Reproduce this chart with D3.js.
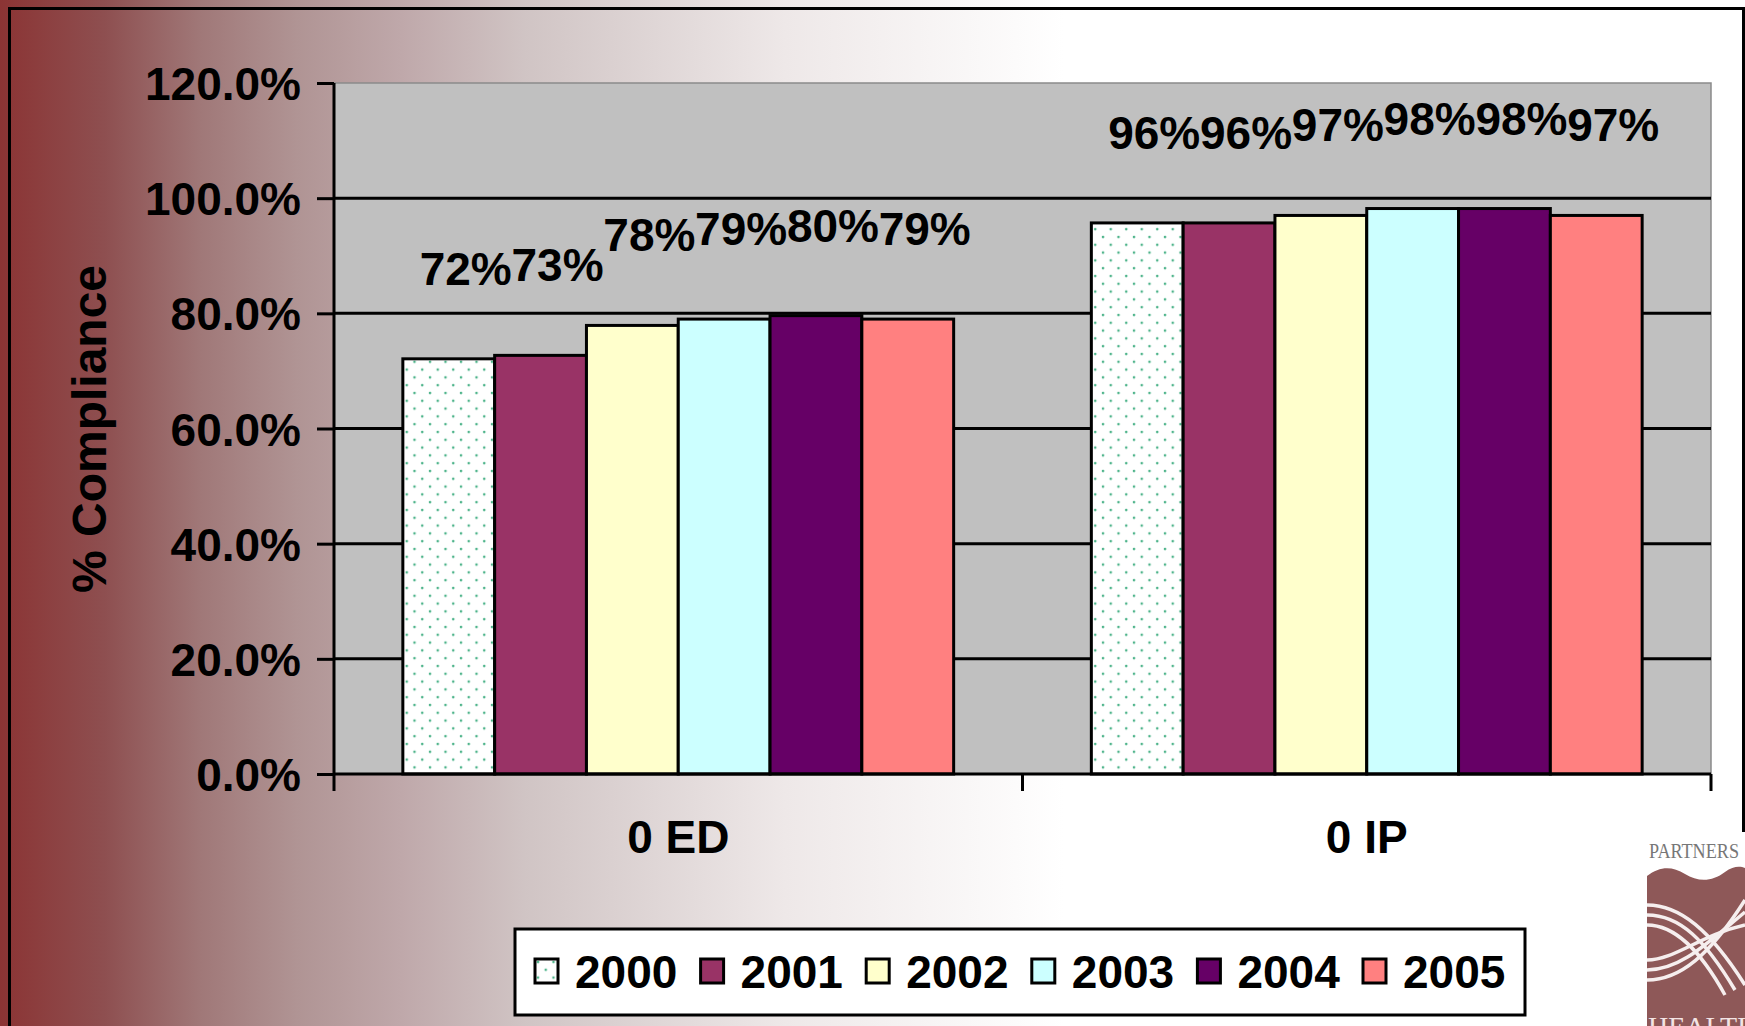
<!DOCTYPE html>
<html>
<head>
<meta charset="utf-8">
<script src="https://cdn.jsdelivr.net/npm/d3@7"></script>
<style>
  body { margin: 0; background: #fff; }
  svg { display: block; }
</style>
</head>
<body>
<svg id="chart"></svg>
<script>
// chart data
var categories = ["0 ED", "0 IP"];
var years = ["2000", "2001", "2002", "2003", "2004", "2005"];
var ed_values = [72.1, 72.7, 77.9, 79.0, 79.6, 79.0];
var ip_values = [95.7, 95.7, 97.0, 98.2, 98.2, 97.0];
var y_ticks = [0, 0.2, 0.4, 0.6, 0.8, 1.0, 1.2];
var year_colors = ["url(#dots)", "#993366", "#FFFFCC", "#CCFFFF", "#660066", "#FF8080"];

var width = 1745, height = 1026;
var plot_left = 334, plot_right = 1711, plot_top = 83, plot_bottom = 774;
var font = "Arial, 'Liberation Sans', sans-serif";

const svg = d3.select("#chart")
            .attr("width", width)
            .attr("height", height)
            .attr("font-family", font)
            .attr("font-weight", "bold");

var defs = svg.append("defs");

// background fade, dark red on the left to white
var grad = defs.append("linearGradient")
            .attr("id", "bg_fade")
            .attr("x1", 0).attr("x2", 1).attr("y1", 0).attr("y2", 0);
[[0, "#8b3434"], [0.06, "#8e4f50"], [0.115, "#a07878"], [0.17, "#b09494"],
 [0.23, "#bfa8aa"], [0.30, "#d0c4c4"], [0.45, "#eee8e8"], [0.61, "#ffffff"], [1, "#ffffff"]]
    .forEach(s => grad.append("stop").attr("offset", s[0]).attr("stop-color", s[1]));

// dotted fill used by the 2000 series
var dots = defs.append("pattern")
            .attr("id", "dots")
            .attr("patternUnits", "userSpaceOnUse")
            .attr("width", 15.5).attr("height", 15.6);
dots.append("rect").attr("width", 15.5).attr("height", 15.6).attr("fill", "#fff");
dots.append("circle").attr("cx", 3).attr("cy", 3).attr("r", 1.3).attr("fill", "#4db48a");
dots.append("circle").attr("cx", 10.75).attr("cy", 10.8).attr("r", 1.3).attr("fill", "#4db48a");

svg.append("rect")
    .attr("width", width).attr("height", height)
    .attr("fill", "url(#bg_fade)");

// slide frame
svg.append("path")
    .attr("d", "M9.5,1030 V8.5 H1743.5 V835")
    .attr("fill", "none")
    .attr("stroke", "#000")
    .attr("stroke-width", 3);

// scales
var x0 = d3.scaleBand()
            .domain(categories)
            .range([plot_left, plot_right])
            .padding(0);
var x1 = d3.scaleBand()
            .domain(years)
            .range([0, x0.bandwidth()])
            .paddingInner(0)
            .paddingOuter(0.75);
var y = d3.scaleLinear()
            .domain([0, 1.2])
            .range([plot_bottom, plot_top]);

// plot area
svg.append("rect")
    .attr("x", plot_left).attr("y", plot_top)
    .attr("width", plot_right - plot_left)
    .attr("height", plot_bottom - plot_top)
    .attr("fill", "#c0c0c0")
    .attr("stroke", "#8a8a8a")
    .attr("stroke-width", 1.5);

svg.append("g")
    .selectAll("line")
    .data(y_ticks.filter(t => t > 0 && t < 1.2))
    .enter()
    .append("line")
    .attr("x1", plot_left).attr("x2", plot_right)
    .attr("y1", d => y(d)).attr("y2", d => y(d))
    .attr("stroke", "#000")
    .attr("stroke-width", 3);

// bars
var rows = categories.map((c, i) => {
    var vals = i == 0 ? ed_values : ip_values;
    return years.map((yr, j) => ({cat: c, year: yr, value: vals[j], color: year_colors[j]}));
});

var groups = svg.selectAll(".cat_group")
            .data(rows)
            .enter()
            .append("g")
            .attr("class", "cat_group")
            .attr("transform", (d, i) => "translate(" + x0(categories[i]) + ",0)");

groups.selectAll("rect")
    .data(d => d)
    .enter()
    .append("rect")
    .attr("x", d => x1(d.year))
    .attr("y", d => y(d.value / 100))
    .attr("width", x1.bandwidth())
    .attr("height", d => plot_bottom - y(d.value / 100))
    .attr("fill", d => d.color)
    .attr("stroke", "#000")
    .attr("stroke-width", 3);

groups.selectAll("text")
    .data(d => d)
    .enter()
    .append("text")
    .text(d => d3.format(".0f")(d.value) + "%")
    .attr("x", d => x1(d.year) + x1.bandwidth() / 2 + 17)
    .attr("y", d => y(d.value / 100) - 74)
    .attr("text-anchor", "middle")
    .attr("font-size", 46)
    .attr("fill", "#000");

// axes
var y_axis = d3.axisLeft(y)
            .tickValues(y_ticks)
            .tickFormat(d3.format(".1%"))
            .tickSize(17)
            .tickPadding(16);
var y_g = svg.append("g")
            .attr("transform", "translate(" + plot_left + ",0)")
            .call(y_axis);
y_g.select(".domain").attr("stroke-width", 3).attr("d", "M0," + plot_top + "V" + plot_bottom);
y_g.selectAll(".tick line").attr("stroke-width", 3);
y_g.selectAll(".tick text")
    .attr("font-size", 46)
    .attr("font-family", font)
    .attr("font-weight", "bold")
    .attr("fill", "#000")
    .attr("dy", "0.36em");

var x_axis = d3.axisBottom(x0)
            .tickSize(0)
            .tickPadding(46);
var x_g = svg.append("g")
            .attr("transform", "translate(0," + plot_bottom + ")")
            .call(x_axis);
x_g.select(".domain").attr("stroke-width", 3).attr("d", "M" + plot_left + ",0H" + plot_right);
x_g.selectAll(".tick text")
    .attr("font-size", 46)
    .attr("font-family", font)
    .attr("font-weight", "bold")
    .attr("fill", "#000")
    .attr("dy", "0.71em");

// category boundary ticks below the axis
svg.append("g")
    .selectAll("line")
    .data(categories.map(c => x0(c)).concat([plot_right]))
    .enter()
    .append("line")
    .attr("x1", d => d).attr("x2", d => d)
    .attr("y1", plot_bottom).attr("y2", plot_bottom + 17)
    .attr("stroke", "#000")
    .attr("stroke-width", 3);

// y title
svg.append("text")
    .text("% Compliance")
    .attr("transform", "translate(106,429) rotate(-90)")
    .attr("text-anchor", "middle")
    .attr("font-size", 48)
    .attr("fill", "#000");

// legend
var legend_x = 515, legend_y = 929, legend_w = 1010, legend_h = 86, item_step = 165.6;
svg.append("rect")
    .attr("x", legend_x).attr("y", legend_y)
    .attr("width", legend_w).attr("height", legend_h)
    .attr("fill", "#fff")
    .attr("stroke", "#000")
    .attr("stroke-width", 3);

var items = svg.selectAll(".legend_item")
            .data(years)
            .enter()
            .append("g")
            .attr("class", "legend_item")
            .attr("transform", (d, i) => "translate(" + (legend_x + 20 + i * item_step) + "," + (legend_y + 30) + ")");
items.append("rect")
    .attr("width", 23).attr("height", 24)
    .attr("fill", (d, i) => year_colors[i])
    .attr("stroke", "#000")
    .attr("stroke-width", 3);
items.append("text")
    .text(d => d)
    .attr("x", 40)
    .attr("y", 29)
    .attr("font-size", 46)
    .attr("fill", "#000");

// Partners logo corner
var logo = svg.append("g");
logo.append("rect").attr("x", 1640).attr("y", 832).attr("width", 105).attr("height", 194).attr("fill", "#fff");
logo.append("text")
    .text("PARTNERS")
    .attr("x", 1649).attr("y", 858)
    .attr("font-family", "'Liberation Serif', 'DejaVu Serif', serif")
    .attr("font-weight", "normal")
    .attr("font-size", 20)
    .attr("textLength", 90)
    .attr("lengthAdjust", "spacingAndGlyphs")
    .attr("fill", "#777");
logo.append("path")
    .attr("d", "M1647,876 C1660,866 1672,866 1685,874 C1698,882 1712,882 1725,872 C1733,866 1740,866 1745,868 V1026 H1647 Z")
    .attr("fill", "#8e5858");
var curve_paths = [
    "M1647,905 C1680,905 1710,930 1745,985",
    "M1647,915 C1680,915 1705,940 1735,990",
    "M1647,925 C1675,925 1700,950 1725,995",
    "M1647,980 C1680,980 1710,955 1745,900",
    "M1647,970 C1680,970 1705,945 1745,912",
    "M1647,960 C1675,960 1700,935 1745,925"
];
logo.selectAll(".curve")
    .data(curve_paths)
    .enter()
    .append("path")
    .attr("class", "curve")
    .attr("d", d => d)
    .attr("fill", "none")
    .attr("stroke", "#f6eeee")
    .attr("stroke-width", 3.5);
logo.append("text")
    .text("HEALTHCARE")
    .attr("x", 1648).attr("y", 1036)
    .attr("font-family", "'Liberation Serif', 'DejaVu Serif', serif")
    .attr("font-weight", "normal")
    .attr("font-size", 28)
    .attr("fill", "#f3e4e4");
</script>
</body>
</html>
